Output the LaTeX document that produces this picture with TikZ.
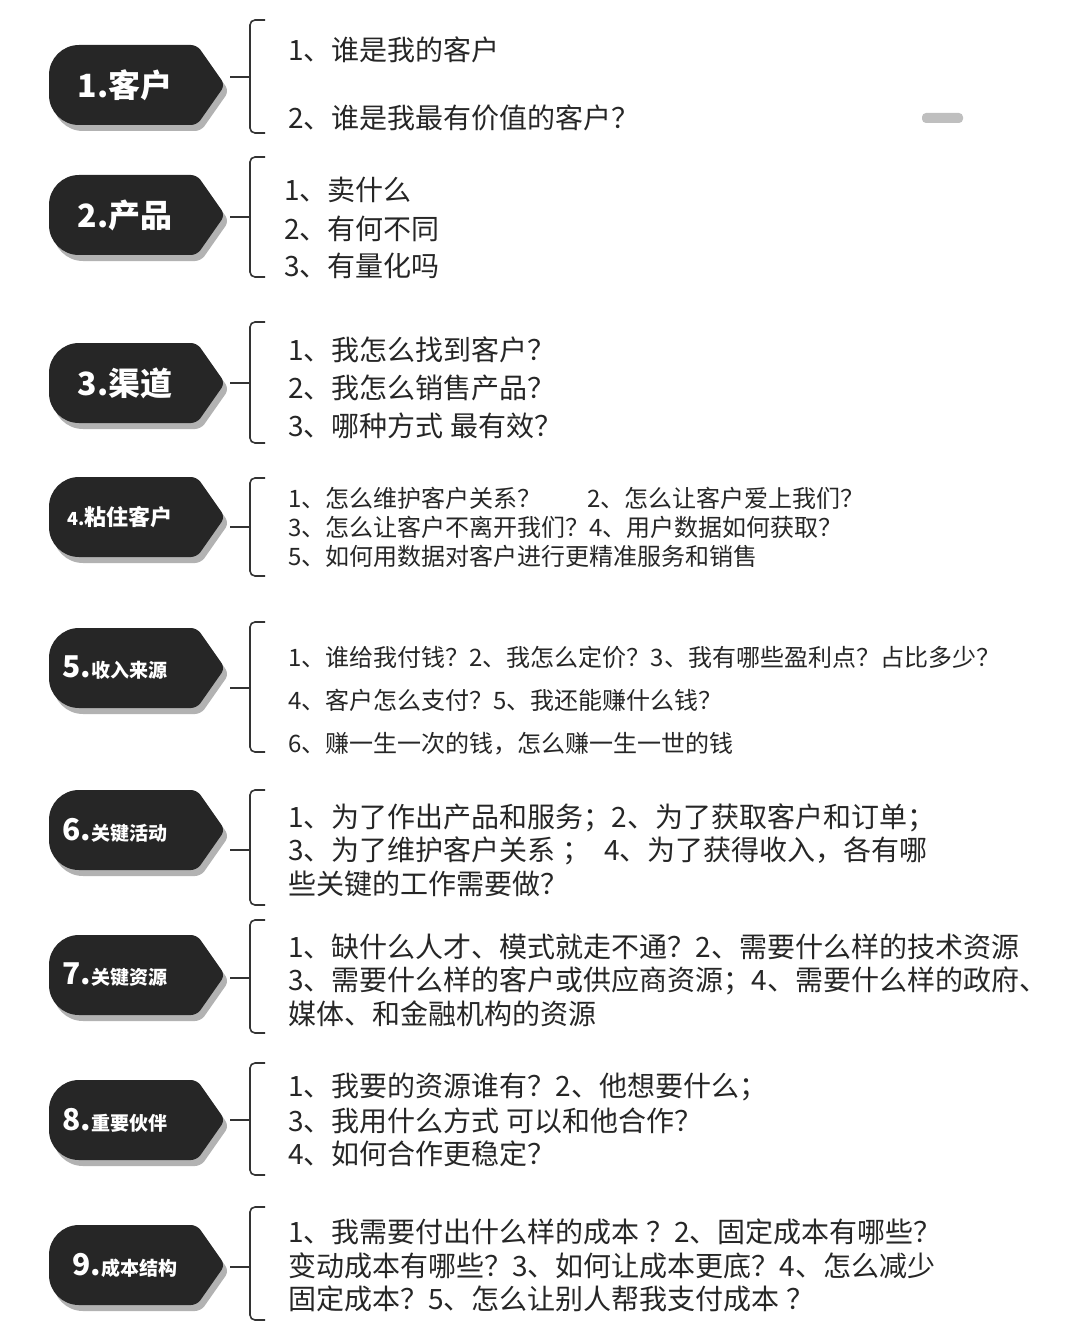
\documentclass[tikz,border=0pt]{standalone}
\usepackage{fontspec}
\setmainfont{Noto Sans CJK SC}
\newfontfamily\cjk{Noto Sans CJK SC}
\begin{document}
\begin{tikzpicture}[x=1pt,y=-1pt,
  qtext/.style={anchor=west,inner sep=0pt,font=\cjk\fontsize{28}{30}\selectfont,text=black!85},
  stext/.style={anchor=west,inner sep=0pt,font=\cjk\fontsize{24}{26}\selectfont,text=black!85},
  bracket/.style={line width=1.6pt,black!80,rounded corners=5pt},
  badgefill/.style={fill=black!85},
  shadowfill/.style={fill=black!30}]
\useasboundingbox (0,0) rectangle (1080,1340);
\newcommand\mybadge[4]{% y, name, content, x offset
  \begin{scope}[shift={(137,#1)}]
  \fill[shadowfill] (6,-34) [rounded corners=6pt]-- (64,-34) -- (92,6) -- (64,46) [rounded corners=30pt]-- (-84,46) -- (-84,-34) [sharp corners]-- (6,-34) -- cycle;
  \fill[badgefill] (0,-40) [rounded corners=6pt]-- (60,-40) -- (88,0) -- (60,40) [rounded corners=30pt]-- (-88,40) -- (-88,-40) [sharp corners]-- (0,-40) -- cycle;
  \node[text=white,font=\cjk\bfseries,inner sep=0pt] (#2) at (-12+#4,0) {#3};
  \end{scope}}
\newcommand\mybracket[4]{% top, mid, bottom, name
  \coordinate (#4t) at (265,#1);
  \coordinate (#4m) at (230,#2);
  \coordinate (#4b) at (265,#3);
  \draw[bracket] (#4t) -- (250,#1) -- (250,#3) -- (#4b);
  \draw[line width=1.6pt,black!80] (#4m) -- (250,#2);}
% 1
\mybadge{85}{b1}{\fontsize{32}{36}\selectfont 1.客户}{0}
\mybracket{20}{77}{133}{k1}
\node[qtext] (t11) at (288,50) {1、谁是我的客户};
\node[qtext] (t12) at (288,118) {2、谁是我最有价值的客户？};
\fill[black!25,rounded corners=4pt] (922,113) rectangle (963,123);
% 2
\mybadge{215}{b2}{\fontsize{32}{36}\selectfont 2.产品}{0}
\mybracket{157}{217}{277}{k2}
\node[qtext] (t21) at (284,190) {1、卖什么};
\node[qtext] (t22) at (284,229) {2、有何不同};
\node[qtext] (t23) at (284,266) {3、有量化吗};
% 3
\mybadge{383}{b3}{\fontsize{32}{36}\selectfont 3.渠道}{0}
\mybracket{322}{383}{443}{k3}
\node[qtext] (t31) at (288,350) {1、我怎么找到客户？};
\node[qtext] (t32) at (288,388) {2、我怎么销售产品？};
\node[qtext] (t33) at (288,426) {3、哪种方式 最有效？};
% 4
\mybadge{517}{b4}{\fontsize{18}{22}\selectfont 4.\fontsize{22}{26}\selectfont 粘住客户}{-5}
\mybracket{478}{527}{576}{k4}
\node[stext] (t41) at (288,498) {1、怎么维护客户关系？\hspace{1.9em}2、怎么让客户爱上我们？};
\node[stext] (t42) at (288,527) {3、怎么让客户不离开我们？4、用户数据如何获取？};
\node[stext] (t43) at (288,556) {5、如何用数据对客户进行更精准服务和销售};
% 5
\mybadge{668}{b5}{\fontsize{30}{34}\selectfont 5.\fontsize{19}{22}\selectfont 收入来源}{-10}
\mybracket{622}{688}{752}{k5}
\node[stext] (t51) at (288,657) {1、谁给我付钱？2、我怎么定价？3、我有哪些盈利点？占比多少？};
\node[stext] (t52) at (288,700) {4、客户怎么支付？5、我还能赚什么钱？};
\node[stext] (t53) at (288,744) {6、赚一生一次的钱，怎么赚一生一世的钱};
% 6
\mybadge{830}{b6}{\fontsize{30}{34}\selectfont 6.\fontsize{19}{22}\selectfont 关键活动}{-10}
\mybracket{790}{850}{905}{k6}
\node[qtext] (t61) at (288,818) {1、为了作出产品和服务；2、为了获取客户和订单；};
\node[qtext] (t62) at (288,851) {3、为了维护客户关系 ；\hspace{0.5em}4、为了获得收入，各有哪};
\node[qtext] (t63) at (288,884) {些关键的工作需要做？};
% 7
\mybadge{975}{b7}{\fontsize{30}{34}\selectfont 7.\fontsize{19}{22}\selectfont 关键资源}{-10}
\mybracket{920}{978}{1033}{k7}
\node[qtext] (t71) at (288,947) {1、缺什么人才、模式就走不通？2、需要什么样的技术资源};
\node[qtext] (t72) at (288,981) {3、需要什么样的客户或供应商资源；4、需要什么样的政府、};
\node[qtext] (t73) at (288,1014) {媒体、和金融机构的资源};
% 8
\mybadge{1120}{b8}{\fontsize{30}{34}\selectfont 8.\fontsize{19}{22}\selectfont 重要伙伴}{-10}
\mybracket{1063}{1120}{1175}{k8}
\node[qtext] (t81) at (288,1087) {1、我要的资源谁有？2、他想要什么；};
\node[qtext] (t82) at (288,1121) {3、我用什么方式 可以和他合作？};
\node[qtext] (t83) at (288,1154) {4、如何合作更稳定？};
% 9
\mybadge{1265}{b9}{\fontsize{30}{34}\selectfont 9.\fontsize{19}{22}\selectfont 成本结构}{0}
\mybracket{1207}{1267}{1320}{k9}
\node[qtext] (t91) at (288,1232) {1、我需要付出什么样的成本 ？2、固定成本有哪些？};
\node[qtext] (t92) at (288,1266) {变动成本有哪些？3、如何让成本更底？4、怎么减少};
\node[qtext] (t93) at (288,1299) {固定成本？5、怎么让别人帮我支付成本 ？};
\end{tikzpicture}
\end{document}
